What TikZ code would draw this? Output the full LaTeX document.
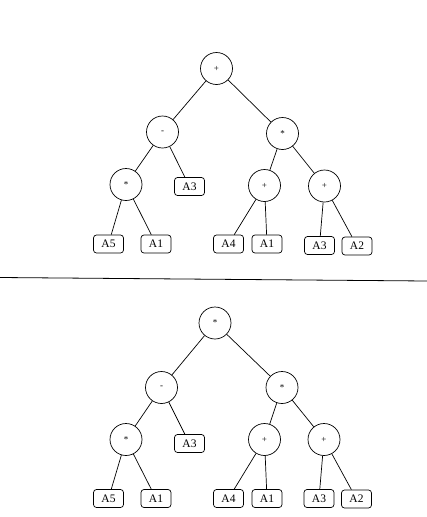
\documentclass[tikz,border=0pt]{standalone}
\usepackage{fontspec}
\setmainfont{Liberation Serif}
\begin{document}
\begin{tikzpicture}[x=1pt,y=-1pt,
  op/.style={draw,circle,minimum size=32pt,inner sep=0pt,font=\fontsize{9}{10}\selectfont,line width=0.7pt},
  leaf/.style={draw,rounded corners=3pt,minimum width=30pt,minimum height=18pt,inner sep=0pt,font=\fontsize{11.5}{12}\selectfont,line width=0.7pt},
  edge/.style={line width=0.7pt}]
\useasboundingbox (0,0) rectangle (427,517);
% top tree
\node[op] (t1) at (216.5,68.5) {+};
\node[op] (t2) at (162.5,132) {-};
\node[op] (t3) at (282.5,133.5) {*};
\node[op] (t4) at (126,184.5) {*};
\node[leaf] (t5) at (189.5,186.5) {A3};
\node[op] (t6) at (264.5,185.5) {+};
\node[op] (t7) at (324.5,186) {+};
\node[leaf] (t8) at (108.5,244) {A5};
\node[leaf] (t9) at (156,244) {A1};
\node[leaf] (t10) at (228.5,244) {A4};
\node[leaf] (t11) at (267,244) {A1};
\node[leaf] (t12) at (319.5,245.5) {A3};
\node[leaf] (t13) at (357,246) {A2};
\draw[edge] (t1)--(t2) (t1)--(t3) (t2)--(t4) (t2)--(t5) (t3)--(t6) (t3)--(t7)
  (t4)--(t8) (t4)--(t9) (t6)--(t10) (t6)--(t11) (t7)--(t12) (t7)--(t13);
% separator
\coordinate (s1) at (0,277.5);
\coordinate (s2) at (427,281);
\draw[line width=0.8pt] (s1)--(s2);
% bottom tree
\node[op] (b1) at (215,323) {*};
\node[op] (b2) at (161.5,387.5) {-};
\node[op] (b3) at (282,387.5) {*};
\node[op] (b4) at (126,439.5) {*};
\node[leaf] (b5) at (189.5,443.5) {A3};
\node[op] (b6) at (264.5,439.5) {+};
\node[op] (b7) at (324,439.5) {+};
\node[leaf] (b8) at (108.5,498.5) {A5};
\node[leaf] (b9) at (156,498.5) {A1};
\node[leaf] (b10) at (228.5,498.5) {A4};
\node[leaf] (b11) at (267,498.5) {A1};
\node[leaf] (b12) at (319,498.5) {A3};
\node[leaf] (b13) at (356.5,499) {A2};
\draw[edge] (b1)--(b2) (b1)--(b3) (b2)--(b4) (b2)--(b5) (b3)--(b6) (b3)--(b7)
  (b4)--(b8) (b4)--(b9) (b6)--(b10) (b6)--(b11) (b7)--(b12) (b7)--(b13);
\end{tikzpicture}
\end{document}
